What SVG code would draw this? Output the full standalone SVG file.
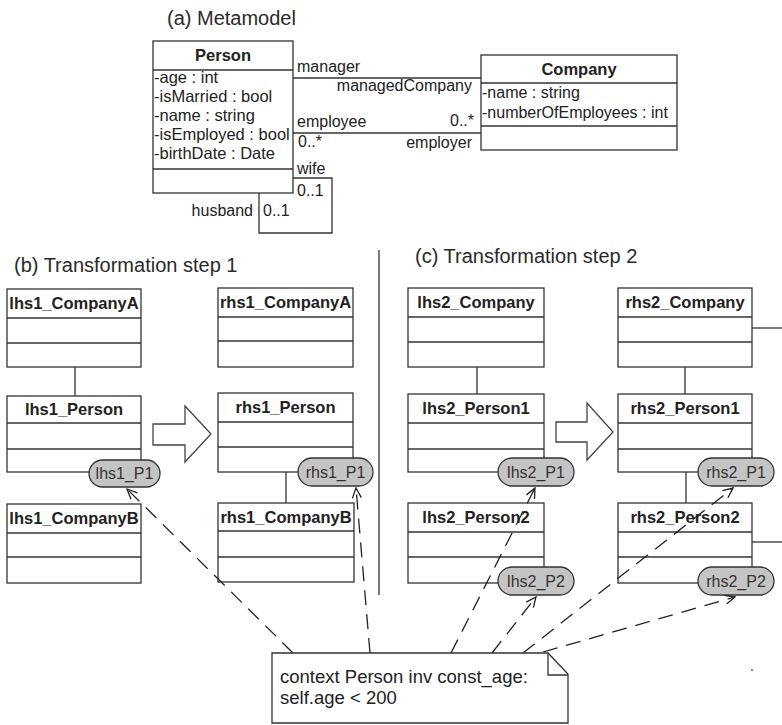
<svg xmlns="http://www.w3.org/2000/svg" width="782" height="725" viewBox="0 0 782 725">
  <defs>
    <style>
      text { font-family: "Liberation Sans", Arial, sans-serif; fill: #222; }
      .title { font-size: 20px; fill: #2a2a2a; }
      .cname { font-size: 16.5px; font-weight: bold; text-anchor: middle; }
      .attr { font-size: 16.5px; }
      .lbl { font-size: 16px; }
      .end { text-anchor: end; }
      .pname { font-size: 16px; text-anchor: middle; fill: #333; }
      .note { font-size: 18.5px; }
      .box { fill: #fff; stroke: #333; stroke-width: 1.3; }
      .ln { fill: none; stroke: #333; stroke-width: 1.3; }
      .pill { fill: #c4c4c4; stroke: #333; stroke-width: 1.3; }
      .dash { fill: none; stroke: #222; stroke-width: 1.3; stroke-dasharray: 15 9; marker-end: url(#open); }
      .big { fill: #fff; stroke: #444; stroke-width: 1.3; }
    </style>
    <marker id="open" viewBox="0 0 12 10" refX="11" refY="5" markerWidth="12" markerHeight="10" markerUnits="userSpaceOnUse" orient="auto">
      <path d="M1,0.5 L11,5 L1,9.5" fill="none" stroke="#222" stroke-width="1.3"/>
    </marker>
  </defs>

  <!-- section titles -->
  <text class="title" x="167" y="25">(a) Metamodel</text>
  <text class="title" x="14" y="272">(b) Transformation step 1</text>
  <text class="title" x="415" y="263">(c) Transformation step 2</text>

  <!-- divider between the two steps -->
  <line class="ln" x1="379" y1="250" x2="379" y2="595"/>

  <!-- metamodel associations -->
  <g id="connectors">
    <line class="ln" x1="293" y1="78" x2="481" y2="78"/>
    <line class="ln" x1="293" y1="133" x2="481" y2="133"/>
    <polyline class="ln" points="293,178 332,178 332,233 259,233 259,193"/>

    <!-- links inside step 1 -->
    <line class="ln" x1="75" y1="367" x2="75" y2="396"/>
    <line class="ln" x1="286" y1="472" x2="286" y2="503"/>

    <!-- links inside step 2 -->
    <line class="ln" x1="477" y1="367" x2="477" y2="394"/>
    <line class="ln" x1="685" y1="367" x2="685" y2="394"/>
    <line class="ln" x1="686" y1="472" x2="686" y2="503"/>
    <line class="ln" x1="752" y1="328" x2="782" y2="328"/>
    <line class="ln" x1="752" y1="542" x2="782" y2="542"/>
  </g>

  <!-- association end labels -->
  <g id="assoc-labels">
    <text class="lbl" x="297" y="72">manager</text>
    <text class="lbl end" x="472" y="91">managedCompany</text>
    <text class="lbl" x="297" y="127">employee</text>
    <text class="lbl end" x="474" y="126">0..*</text>
    <text class="lbl" x="298" y="147">0..*</text>
    <text class="lbl end" x="472" y="148">employer</text>
    <text class="lbl" x="297" y="174">wife</text>
    <text class="lbl" x="297" y="196">0..1</text>
    <text class="lbl end" x="253" y="216">husband</text>
    <text class="lbl" x="263" y="216">0..1</text>
  </g>

  <!-- metamodel classes -->
  <g id="Person">
    <rect class="box" x="153" y="41" width="140" height="152"/>
    <line class="ln" x1="153" y1="70" x2="293" y2="70"/>
    <line class="ln" x1="153" y1="169" x2="293" y2="169"/>
    <text class="cname" x="223" y="61">Person</text>
    <text class="attr" x="154" y="83">-age : int</text>
    <text class="attr" x="154" y="102">-isMarried : bool</text>
    <text class="attr" x="154" y="121">-name : string</text>
    <text class="attr" x="154" y="140">-isEmployed : bool</text>
    <text class="attr" x="154" y="159">-birthDate : Date</text>
  </g>

  <g id="Company">
    <rect class="box" x="481" y="55" width="196" height="95"/>
    <line class="ln" x1="481" y1="83" x2="677" y2="83"/>
    <line class="ln" x1="481" y1="126" x2="677" y2="126"/>
    <text class="cname" x="579" y="75">Company</text>
    <text class="attr" style="font-size:16px" x="482" y="98">-name : string</text>
    <text class="attr" style="font-size:16px" x="482" y="118">-numberOfEmployees : int</text>
  </g>

  <!-- step 1: left-hand side -->
  <g id="lhs1_CompanyA">
    <rect class="box" x="7" y="289" width="134" height="78"/>
    <line class="ln" x1="7" y1="318" x2="141" y2="318"/>
    <line class="ln" x1="7" y1="343" x2="141" y2="343"/>
    <text class="cname" x="74" y="309">lhs1_CompanyA</text>
  </g>
  <g id="lhs1_Person">
    <rect class="box" x="7" y="396" width="134" height="76"/>
    <line class="ln" x1="7" y1="423" x2="141" y2="423"/>
    <line class="ln" x1="7" y1="449" x2="141" y2="449"/>
    <text class="cname" x="74" y="415">lhs1_Person</text>
  </g>
  <g id="lhs1_P1">
    <rect class="pill" x="89" y="460" width="71" height="27" rx="13.5"/>
    <text class="pname" x="124.5" y="479">lhs1_P1</text>
  </g>
  <g id="lhs1_CompanyB">
    <rect class="box" x="7" y="504" width="134" height="79"/>
    <line class="ln" x1="7" y1="533" x2="141" y2="533"/>
    <line class="ln" x1="7" y1="557" x2="141" y2="557"/>
    <text class="cname" x="74" y="524">lhs1_CompanyB</text>
  </g>

  <!-- step 1 rewrite arrow -->
  <polygon id="step1-arrow" class="big" points="153,424 185,424 185,406 211,434 185,462 185,445 153,445"/>

  <!-- step 1: right-hand side -->
  <g id="rhs1_CompanyA">
    <rect class="box" x="218" y="288" width="135" height="79"/>
    <line class="ln" x1="218" y1="317" x2="353" y2="317"/>
    <line class="ln" x1="218" y1="341" x2="353" y2="341"/>
    <text class="cname" x="285.5" y="308">rhs1_CompanyA</text>
  </g>
  <g id="rhs1_Person">
    <rect class="box" x="218" y="393" width="135" height="79"/>
    <line class="ln" x1="218" y1="422" x2="353" y2="422"/>
    <line class="ln" x1="218" y1="447" x2="353" y2="447"/>
    <text class="cname" x="285.5" y="413">rhs1_Person</text>
  </g>
  <g id="rhs1_P1">
    <rect class="pill" x="298" y="458" width="75" height="28" rx="14"/>
    <text class="pname" x="335.5" y="478">rhs1_P1</text>
  </g>
  <g id="rhs1_CompanyB">
    <rect class="box" x="218" y="503" width="136" height="79"/>
    <line class="ln" x1="218" y1="531" x2="354" y2="531"/>
    <line class="ln" x1="218" y1="557" x2="354" y2="557"/>
    <text class="cname" x="286" y="523">rhs1_CompanyB</text>
  </g>

  <!-- step 2: left-hand side -->
  <g id="lhs2_Company">
    <rect class="box" x="408" y="288" width="136" height="79"/>
    <line class="ln" x1="408" y1="317" x2="544" y2="317"/>
    <line class="ln" x1="408" y1="342" x2="544" y2="342"/>
    <text class="cname" x="476" y="308">lhs2_Company</text>
  </g>
  <g id="lhs2_Person1">
    <rect class="box" x="408" y="394" width="136" height="78"/>
    <line class="ln" x1="408" y1="423" x2="544" y2="423"/>
    <line class="ln" x1="408" y1="449" x2="544" y2="449"/>
    <text class="cname" x="476" y="414">lhs2_Person1</text>
  </g>
  <g id="lhs2_P1">
    <rect class="pill" x="498" y="458" width="76" height="28" rx="14"/>
    <text class="pname" x="536" y="478">lhs2_P1</text>
  </g>
  <g id="lhs2_Person2">
    <rect class="box" x="408" y="503" width="136" height="80"/>
    <line class="ln" x1="408" y1="532" x2="544" y2="532"/>
    <line class="ln" x1="408" y1="557" x2="544" y2="557"/>
    <text class="cname" x="476" y="523">lhs2_Person2</text>
  </g>
  <g id="lhs2_P2">
    <rect class="pill" x="498" y="567" width="76" height="28" rx="14"/>
    <text class="pname" x="536" y="587">lhs2_P2</text>
  </g>

  <!-- step 2 rewrite arrow -->
  <polygon id="step2-arrow" class="big" points="556,422 587,422 587,403 613,432 587,460 587,442 556,442"/>

  <!-- step 2: right-hand side -->
  <g id="rhs2_Company">
    <rect class="box" x="618" y="288" width="134" height="79"/>
    <line class="ln" x1="618" y1="317" x2="752" y2="317"/>
    <line class="ln" x1="618" y1="342" x2="752" y2="342"/>
    <text class="cname" x="685" y="308">rhs2_Company</text>
  </g>
  <g id="rhs2_Person1">
    <rect class="box" x="618" y="394" width="134" height="78"/>
    <line class="ln" x1="618" y1="423" x2="752" y2="423"/>
    <line class="ln" x1="618" y1="449" x2="752" y2="449"/>
    <text class="cname" x="685" y="414">rhs2_Person1</text>
  </g>
  <g id="rhs2_P1">
    <rect class="pill" x="698" y="458" width="76" height="28" rx="14"/>
    <text class="pname" x="736" y="478">rhs2_P1</text>
  </g>
  <g id="rhs2_Person2">
    <rect class="box" x="618" y="503" width="134" height="80"/>
    <line class="ln" x1="618" y1="532" x2="752" y2="532"/>
    <line class="ln" x1="618" y1="557" x2="752" y2="557"/>
    <text class="cname" x="685" y="523">rhs2_Person2</text>
  </g>
  <g id="rhs2_P2">
    <rect class="pill" x="698" y="567" width="76" height="28" rx="14"/>
    <text class="pname" x="736" y="587">rhs2_P2</text>
  </g>

  <!-- constraint attachments -->
  <g id="constraint-links">
    <line class="dash" x1="293" y1="653" x2="127" y2="489"/>
    <line class="dash" x1="370" y1="653" x2="356" y2="488"/>
    <line class="dash" x1="451" y1="653" x2="535" y2="488"/>
    <line class="dash" x1="492" y1="653" x2="536" y2="597"/>
    <line class="dash" x1="523" y1="653" x2="733" y2="488"/>
    <line class="dash" x1="543" y1="652" x2="735" y2="597"/>
  </g>

  <!-- OCL note -->
  <g id="note">
    <polygon class="box" points="272,653 548,653 568,674 568,723 272,723"/>
    <polyline class="ln" points="548,653 548,675 568,675"/>
    <text class="note" x="280" y="683">context Person inv const_age:</text>
    <text class="note" x="280" y="704">self.age &lt; 200</text>
  </g>

  <circle cx="752" cy="670" r="0.9" fill="#555"/>
</svg>
